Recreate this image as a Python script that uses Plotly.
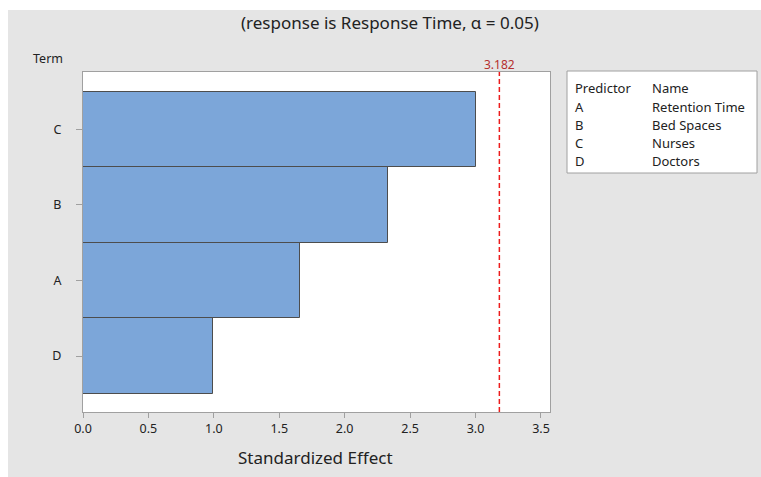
import plotly.graph_objects as go

terms = ["D", "A", "B", "C"]
effects = [0.99, 1.66, 2.33, 3.0]
critical = 3.182
x_ticks = [0, 0.5, 1.0, 1.5, 2.0, 2.5, 3.0, 3.5]
legend_predictors = ["A", "B", "C", "D"]
legend_names = ["Retention Time", "Bed Spaces", "Nurses", "Doctors"]

FONT = "Noto Sans"
W, H = 761, 477
L, R, T, B = 83, 550, 72, 412
TXT = "#222222"

def px(xp):
    return (xp - L) / (R - L)

def py(yp):
    return (B - yp) / (B - T)

fig = go.Figure()
fig.add_trace(go.Bar(
    y=terms, x=effects, orientation="h",
    marker=dict(color="#7ca6d9", line=dict(color="#4d4d4d", width=1)),
    width=1.0, hoverinfo="x+y", showlegend=False,
))

shapes = [
    # white borders on top and left
    dict(type="rect", xref="paper", yref="paper", x0=px(0), x1=px(W + 5), y0=py(10), y1=py(-5),
         fillcolor="white", line=dict(width=0), layer="above"),
    dict(type="rect", xref="paper", yref="paper", x0=px(-5), x1=px(8), y0=py(H + 5), y1=py(0),
         fillcolor="white", line=dict(width=0), layer="above"),
    # critical line
    dict(type="line", xref="x", yref="paper", x0=critical, x1=critical, y0=0, y1=1,
         line=dict(color="#ec1c1c", width=1.5, dash="5px,3px")),
    # legend box
    dict(type="rect", xref="paper", yref="paper", x0=px(567), x1=px(757), y0=py(173), y1=py(71),
         fillcolor="white", line=dict(color="#a0a0a0", width=1), layer="above"),
]

ann = [
    dict(text="(response is Response Time, α = 0.05)", x=px(390), y=py(22), xref="paper", yref="paper",
         showarrow=False, font=dict(size=17, color=TXT), xanchor="center", yanchor="middle"),
    dict(text="Standardized Effect", x=px(315), y=py(457), xref="paper", yref="paper",
         showarrow=False, font=dict(size=17, color=TXT), xanchor="center", yanchor="middle"),
    dict(text="Term", x=px(47.5), y=py(59), xref="paper", yref="paper",
         showarrow=False, font=dict(size=12.5, color=TXT), xanchor="center", yanchor="middle"),
    dict(text=f"{critical:.3f}", x=critical, y=py(64), xref="x", yref="paper",
         showarrow=False, font=dict(size=12, color="#b5302e"), xanchor="center", yanchor="middle"),
    dict(text="Predictor", x=px(573), y=py(88), xref="paper", yref="paper",
         showarrow=False, font=dict(size=13, color=TXT), xanchor="left", yanchor="middle"),
    dict(text="Name", x=px(650), y=py(88), xref="paper", yref="paper",
         showarrow=False, font=dict(size=13, color=TXT), xanchor="left", yanchor="middle"),
]
for i, (p, n) in enumerate(zip(legend_predictors, legend_names)):
    yy = 106.5 + i * 18.3
    ann.append(dict(text=p, x=px(573), y=py(yy), xref="paper", yref="paper", showarrow=False,
                    font=dict(size=13, color=TXT), xanchor="left", yanchor="middle"))
    ann.append(dict(text=n, x=px(650), y=py(yy), xref="paper", yref="paper", showarrow=False,
                    font=dict(size=13, color=TXT), xanchor="left", yanchor="middle"))

fig.update_layout(
    width=W, height=H,
    margin=dict(l=L, r=W - R, t=T, b=H - B, pad=0),
    paper_bgcolor="#e5e5e5", plot_bgcolor="white",
    font=dict(family=FONT, size=12.5, color=TXT),
    bargap=0,
    shapes=shapes, annotations=ann,
    xaxis=dict(range=[0, 3.569], tickvals=x_ticks, ticktext=[f"{v:.1f}" for v in x_ticks],
               showgrid=False, zeroline=False, showline=True, mirror=True, linecolor="#a0a0a0",
               linewidth=1, ticks="outside", ticklen=5, tickcolor="#a0a0a0",
               tickfont=dict(size=12.5, color=TXT)),
    yaxis=dict(type="category", categoryorder="array", categoryarray=terms, range=[-0.74, 3.76],
               showgrid=False, zeroline=False, showline=True, mirror=True, linecolor="#a0a0a0",
               linewidth=1, ticks="outside", ticklen=6, tickcolor="#a0a0a0",
               tickfont=dict(size=12.5, color=TXT), ticklabelstandoff=12),
)

fig.write_html(
    "out.html", config={"displayModeBar": False},
    post_script=("document.body.style.margin='0px';"
                 "document.body.style.overflow='hidden';"
                 "document.documentElement.style.overflow='hidden';"),
)
